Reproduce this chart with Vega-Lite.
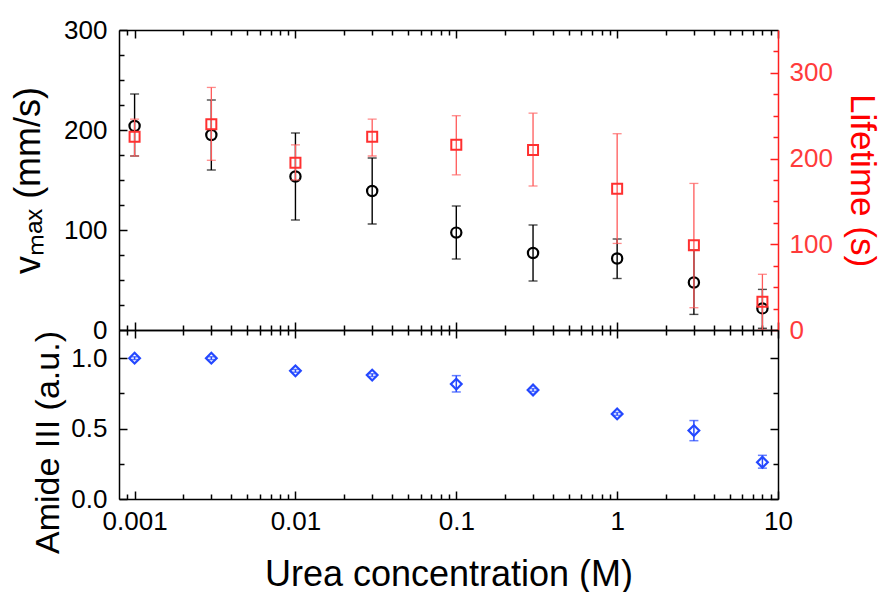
{
  "$schema": "https://vega.github.io/schema/vega-lite/v6.json",
  "padding": {"left": 9, "top": 17, "right": 14, "bottom": 4},
  "spacing": 0,
  "bounds": "flush",
  "data": {
    "values": [
      {"conc": 0.001, "v": 204, "vlo": 174, "vhi": 236, "t": 225.6, "tlo": 203, "thi": 246, "a": 1.0, "alo": 0.99, "ahi": 1.01},
      {"conc": 0.003, "v": 195, "vlo": 160, "vhi": 230, "t": 240, "tlo": 198, "thi": 283, "a": 1.0, "alo": 0.99, "ahi": 1.01},
      {"conc": 0.01, "v": 153.5, "vlo": 110, "vhi": 197, "t": 195, "tlo": 175, "thi": 216, "a": 0.91, "alo": 0.9, "ahi": 0.92},
      {"conc": 0.03, "v": 139, "vlo": 106, "vhi": 172, "t": 225.6, "tlo": 203, "thi": 246, "a": 0.88, "alo": 0.87, "ahi": 0.89},
      {"conc": 0.1, "v": 97.4, "vlo": 71, "vhi": 124, "t": 216, "tlo": 181, "thi": 250, "a": 0.816, "alo": 0.76, "ahi": 0.876},
      {"conc": 0.3, "v": 77, "vlo": 49, "vhi": 105, "t": 210, "tlo": 168, "thi": 253, "a": 0.774, "alo": 0.764, "ahi": 0.784},
      {"conc": 1, "v": 71.5, "vlo": 51.5, "vhi": 91, "t": 164.7, "tlo": 101, "thi": 229, "a": 0.604, "alo": 0.594, "ahi": 0.614},
      {"conc": 3, "v": 47.5, "vlo": 15.6, "vhi": 80, "t": 98.8, "tlo": 26, "thi": 171, "a": 0.486, "alo": 0.414, "ahi": 0.557},
      {"conc": 8, "v": 21.6, "vlo": 1.7, "vhi": 40.6, "t": 33, "tlo": 0, "thi": 65, "a": 0.261, "alo": 0.219, "ahi": 0.31}
    ]
  },
  "resolve": {"scale": {"x": "independent", "y": "independent"}},
  "vconcat": [
    {
      "width": 659,
      "height": 300,
      "resolve": {"scale": {"y": "independent"}, "axis": {"x": "independent"}},
      "layer": [
        {
          "encoding": {
            "x": {
              "field": "conc", "type": "quantitative",
              "scale": {"type": "log", "domain": [0.0008, 10], "nice": false},
              "axis": {
                "orient": "bottom", "labels": false, "title": null,
                "values": [0.0009,0.001,0.002,0.003,0.004,0.005,0.006,0.007,0.008,0.009,0.01,0.02,0.03,0.04,0.05,0.06,0.07,0.08,0.09,0.1,0.2,0.3,0.4,0.5,0.6,0.7,0.8,0.9,1,2,3,4,5,6,7,8,9,10],
                "tickSize": {"condition": {"test": "abs(log(datum.value)/LN10 - round(log(datum.value)/LN10)) < 0.001", "value": -8}, "value": -5}
              }
            }
          },
          "layer": [
            {
              "mark": {"type": "errorbar", "ticks": true, "size": 9, "thickness": 1.4, "color": "#000000"},
              "encoding": {
                "y": {
                  "field": "vlo", "type": "quantitative",
                  "scale": {"domain": [0, 300], "nice": false, "zero": false},
                  "axis": {
                    "orient": "left",
                    "values": [0,25,50,75,100,125,150,175,200,225,250,275,300],
                    "labelExpr": "datum.value % 100 === 0 ? format(datum.value, 'd') : ''",
                    "tickSize": {"condition": {"test": "datum.value % 100 === 0", "value": -8}, "value": -5},
                    "labelPadding": 20,
                    "title": "vₘₐₓ (mm/s)",
                    "titleX": -80,
                    "titleBaseline": "alphabetic"
                  }
                },
                "y2": {"field": "vhi"}
              }
            },
            {
              "mark": {"type": "point", "shape": "circle", "filled": false, "stroke": "#000000", "strokeWidth": 2.2, "size": 105, "opacity": 1},
              "encoding": {
                "y": {
                  "field": "v", "type": "quantitative",
                  "scale": {"domain": [0, 300], "nice": false, "zero": false},
                  "axis": {
                    "orient": "left",
                    "values": [0,25,50,75,100,125,150,175,200,225,250,275,300],
                    "labelExpr": "datum.value % 100 === 0 ? format(datum.value, 'd') : ''",
                    "tickSize": {"condition": {"test": "datum.value % 100 === 0", "value": -8}, "value": -5},
                    "labelPadding": 20,
                    "title": "vₘₐₓ (mm/s)",
                    "titleX": -80,
                    "titleBaseline": "alphabetic"
                  }
                }
              }
            }
          ]
        },
        {
          "encoding": {
            "x": {
              "field": "conc", "type": "quantitative",
              "scale": {"type": "log", "domain": [0.0008, 10], "nice": false},
              "axis": {
                "orient": "top", "labels": false, "title": null,
                "values": [0.0009,0.001,0.002,0.003,0.004,0.005,0.006,0.007,0.008,0.009,0.01,0.02,0.03,0.04,0.05,0.06,0.07,0.08,0.09,0.1,0.2,0.3,0.4,0.5,0.6,0.7,0.8,0.9,1,2,3,4,5,6,7,8,9,10],
                "tickSize": {"condition": {"test": "abs(log(datum.value)/LN10 - round(log(datum.value)/LN10)) < 0.001", "value": -8}, "value": -5}
              }
            }
          },
          "layer": [
            {
              "mark": {"type": "errorbar", "ticks": true, "size": 9, "thickness": 1.3, "color": "#ff5a5a"},
              "encoding": {
                "y": {
                  "field": "tlo", "type": "quantitative",
                  "scale": {"domain": [0, 350], "nice": false, "zero": false},
                  "axis": {
                    "orient": "right",
                    "values": [0,25,50,75,100,125,150,175,200,225,250,275,300,325],
                    "labelExpr": "datum.value % 100 === 0 ? format(datum.value, 'd') : ''",
                    "tickSize": {"condition": {"test": "datum.value % 100 === 0", "value": -8}, "value": -5},
                    "labelPadding": 19,
                    "labelColor": "#ff3b3b",
                    "tickColor": "#ff2020",
                    "domainColor": "#ff2020",
                    "title": "Lifetime (s)",
                    "titleColor": "#ff0000",
                    "titleFontSize": 35,
                    "titleX": 72,
                    "titleBaseline": "alphabetic"
                  }
                },
                "y2": {"field": "thi"}
              }
            },
            {
              "mark": {"type": "point", "shape": "square", "filled": false, "stroke": "#ff3030", "strokeWidth": 2, "size": 100, "opacity": 1},
              "encoding": {
                "y": {
                  "field": "t", "type": "quantitative",
                  "scale": {"domain": [0, 350], "nice": false, "zero": false},
                  "axis": {
                    "orient": "right",
                    "values": [0,25,50,75,100,125,150,175,200,225,250,275,300,325],
                    "labelExpr": "datum.value % 100 === 0 ? format(datum.value, 'd') : ''",
                    "tickSize": {"condition": {"test": "datum.value % 100 === 0", "value": -8}, "value": -5},
                    "labelPadding": 19,
                    "labelColor": "#ff3b3b",
                    "tickColor": "#ff2020",
                    "domainColor": "#ff2020",
                    "title": "Lifetime (s)",
                    "titleColor": "#ff0000",
                    "titleFontSize": 35,
                    "titleX": 72,
                    "titleBaseline": "alphabetic"
                  }
                }
              }
            }
          ]
        }
      ]
    },
    {
      "width": 659,
      "height": 169,
      "resolve": {"axis": {"x": "independent", "y": "independent"}},
      "layer": [
        {
          "mark": {"type": "errorbar", "ticks": true, "size": 9, "thickness": 1.5, "color": "#2448ff"},
          "encoding": {
            "x": {
              "field": "conc", "type": "quantitative",
              "scale": {"type": "log", "domain": [0.0008, 10], "nice": false},
              "axis": {
                "orient": "bottom",
                "values": [0.0009,0.001,0.002,0.003,0.004,0.005,0.006,0.007,0.008,0.009,0.01,0.02,0.03,0.04,0.05,0.06,0.07,0.08,0.09,0.1,0.2,0.3,0.4,0.5,0.6,0.7,0.8,0.9,1,2,3,4,5,6,7,8,9,10],
                "labelExpr": "abs(log(datum.value)/LN10 - round(log(datum.value)/LN10)) < 0.001 ? format(datum.value, '~g') : ''",
                "tickSize": {"condition": {"test": "abs(log(datum.value)/LN10 - round(log(datum.value)/LN10)) < 0.001", "value": -8}, "value": -5},
                "labelPadding": 17,
                "title": "Urea concentration (M)",
                "titleY": 86,
                "titleBaseline": "alphabetic"
              }
            },
            "y": {
              "field": "alo", "type": "quantitative",
              "scale": {"domain": [0, 1.2], "nice": false, "zero": false},
              "axis": {
                "orient": "left",
                "values": [0, 0.25, 0.5, 0.75, 1.0],
                "labelExpr": "abs(datum.value*2 - round(datum.value*2)) < 0.001 ? format(datum.value, '.1f') : ''",
                "tickSize": {"condition": {"test": "abs(datum.value*2 - round(datum.value*2)) < 0.001", "value": -8}, "value": -5},
                "labelPadding": 20,
                "title": "Amide III (a.u.)",
                "titleFontSize": 34,
                "titleX": -61,
                "titleY": 112,
                "titleBaseline": "alphabetic"
              }
            },
            "y2": {"field": "ahi"}
          }
        },
        {
          "mark": {"type": "point", "shape": "diamond", "filled": false, "stroke": "#2448ff", "strokeWidth": 2.2, "size": 115, "opacity": 1},
          "encoding": {
            "x": {
              "field": "conc", "type": "quantitative",
              "scale": {"type": "log", "domain": [0.0008, 10], "nice": false},
              "axis": {
                "orient": "top", "labels": false, "title": null,
                "values": [0.0009,0.001,0.002,0.003,0.004,0.005,0.006,0.007,0.008,0.009,0.01,0.02,0.03,0.04,0.05,0.06,0.07,0.08,0.09,0.1,0.2,0.3,0.4,0.5,0.6,0.7,0.8,0.9,1,2,3,4,5,6,7,8,9,10],
                "tickSize": {"condition": {"test": "abs(log(datum.value)/LN10 - round(log(datum.value)/LN10)) < 0.001", "value": -8}, "value": -5}
              }
            },
            "y": {
              "field": "a", "type": "quantitative",
              "scale": {"domain": [0, 1.2], "nice": false, "zero": false},
              "axis": {
                "orient": "right", "labels": false, "title": null,
                "values": [0, 0.25, 0.5, 0.75, 1.0],
                "tickSize": {"condition": {"test": "abs(datum.value*2 - round(datum.value*2)) < 0.001", "value": -8}, "value": -5}
              }
            }
          }
        }
      ]
    }
  ],
  "config": {
    "view": {"stroke": null},
    "axis": {
      "labelFont": "Liberation Sans",
      "titleFont": "Liberation Sans",
      "labelFontSize": 26,
      "titleFontSize": 36,
      "titleFontWeight": "normal",
      "labelColor": "#000000",
      "titleColor": "#000000",
      "domainColor": "#000000",
      "tickColor": "#000000",
      "domainWidth": 1.5,
      "tickWidth": 1.5,
      "grid": false,
      "labelOverlap": false,
      "labelFlush": false
    }
  }
}
